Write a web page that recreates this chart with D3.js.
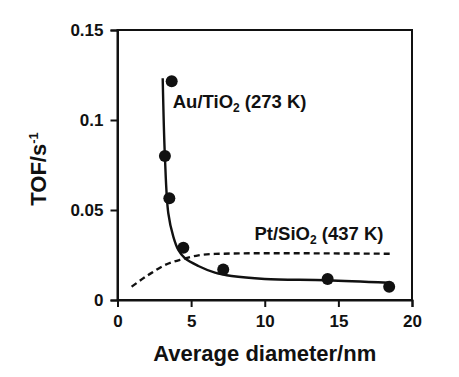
<!DOCTYPE html>
<html>
<head>
<meta charset="utf-8">
<script src="https://cdn.jsdelivr.net/npm/d3@7"></script>
<style>
  body { margin: 0; background: #fff; }
  svg text { font-family: "Liberation Sans", Arial, sans-serif; font-weight: bold; fill: #111; }
</style>
</head>
<body>
<div id="chart"></div>
<script>
// Au/TiO2 measured points (diameter nm, TOF s^-1)
const auPoints = [
    [3.68, 0.1215], [3.22, 0.080], [3.52, 0.0565], [4.47, 0.029],
    [7.18, 0.017], [14.27, 0.0117], [18.45, 0.0074]
];
// Au/TiO2 fitted curve
const auCurve = [
    [3.07, 0.1232], [3.22, 0.0796], [3.45, 0.0482], [3.79, 0.0352],
    [4.13, 0.0278], [4.58, 0.0232], [5.49, 0.0189], [6.62, 0.0152],
    [7.75, 0.0133], [10.0, 0.0117], [14.2, 0.0110], [18.4, 0.0096]
];
// Pt/SiO2 dashed curve
const ptCurve = [
    [0.96, 0.0074], [2.09, 0.0139], [3.22, 0.0194], [4.36, 0.0226],
    [5.49, 0.0248], [6.62, 0.0256], [10.0, 0.0260], [14.0, 0.0259], [18.6, 0.0257]
];
const xTicks = [0, 5, 10, 15, 20];
const yTicks = [0, 0.05, 0.1, 0.15];
const yTickLabels = ["0", "0.05", "0.1", "0.15"];

const W = 459, H = 377;
const margin = { top: 30, right: 47, bottom: 77, left: 117.5 };
const width = W - margin.left - margin.right;
const height = H - margin.top - margin.bottom;

const svg = d3.select("#chart").append("svg")
    .attr("width", W)
    .attr("height", H);

const g = svg.append("g")
    .attr("transform", "translate(" + margin.left + "," + margin.top + ")");

const x = d3.scaleLinear().domain([0, 20]).range([0, width]);
const y = d3.scaleLinear().domain([0, 0.15]).range([height, 0]);

// frame top & right
g.append("rect")
    .attr("x", 0).attr("y", 0)
    .attr("width", width).attr("height", height)
    .style("fill", "none")
    .style("stroke", "#111")
    .style("stroke-width", 2);

const xAxis = g.append("g")
    .attr("transform", "translate(0," + height + ")")
    .call(d3.axisBottom(x).tickValues(xTicks).tickSize(7).tickPadding(8).tickFormat(d3.format("d")));

const yAxis = g.append("g")
    .call(d3.axisLeft(y).tickValues(yTicks).tickSize(7).tickPadding(7)
        .tickFormat((d, i) => yTickLabels[i]));

[xAxis, yAxis].forEach(ax => {
    ax.select(".domain").style("stroke", "#111").style("stroke-width", 2);
    ax.selectAll(".tick line").style("stroke", "#111").style("stroke-width", 2);
    ax.selectAll(".tick text").style("font-size", "17px").style("fill", "#111");
});

const line = d3.line()
    .x(d => x(d[0]))
    .y(d => y(d[1]))
    .curve(d3.curveMonotoneX);

g.append("path")
    .datum(ptCurve)
    .attr("d", line)
    .style("fill", "none")
    .style("stroke", "#111")
    .style("stroke-width", 2.4)
    .style("stroke-dasharray", "6,4");

g.append("path")
    .datum(auCurve)
    .attr("d", d3.line().x(d => x(d[0])).y(d => y(d[1])).curve(d3.curveCatmullRom.alpha(0.5)))
    .style("fill", "none")
    .style("stroke", "#111")
    .style("stroke-width", 2.4);

g.selectAll(".dot")
    .data(auPoints)
    .enter().append("circle")
    .attr("class", "dot")
    .attr("cx", d => x(d[0]))
    .attr("cy", d => y(d[1]))
    .attr("r", 6)
    .style("fill", "#111");

// series labels
function label(px, py, main, sub, rest) {
    const t = g.append("text")
        .attr("x", px).attr("y", py)
        .style("font-size", "18.5px");
    t.append("tspan").text(main);
    t.append("tspan").attr("dy", 4).style("font-size", "12px").text(sub);
    t.append("tspan").attr("dy", -4).text(rest);
}
label(x(3.75), y(0.1065), "Au/TiO", "2", " (273 K)");
label(x(9.3), y(0.0335), "Pt/SiO", "2", " (437 K)");

// axis titles
svg.append("text")
    .attr("x", margin.left + width / 2)
    .attr("y", 361)
    .attr("text-anchor", "middle")
    .style("font-size", "22px")
    .text("Average diameter/nm");

const yt = svg.append("text")
    .attr("transform", "translate(46,169) rotate(-90)")
    .attr("text-anchor", "middle")
    .style("font-size", "22px");
yt.append("tspan").text("TOF/s");
yt.append("tspan").attr("dy", -8).style("font-size", "13px").text("-1");
</script>
</body>
</html>
